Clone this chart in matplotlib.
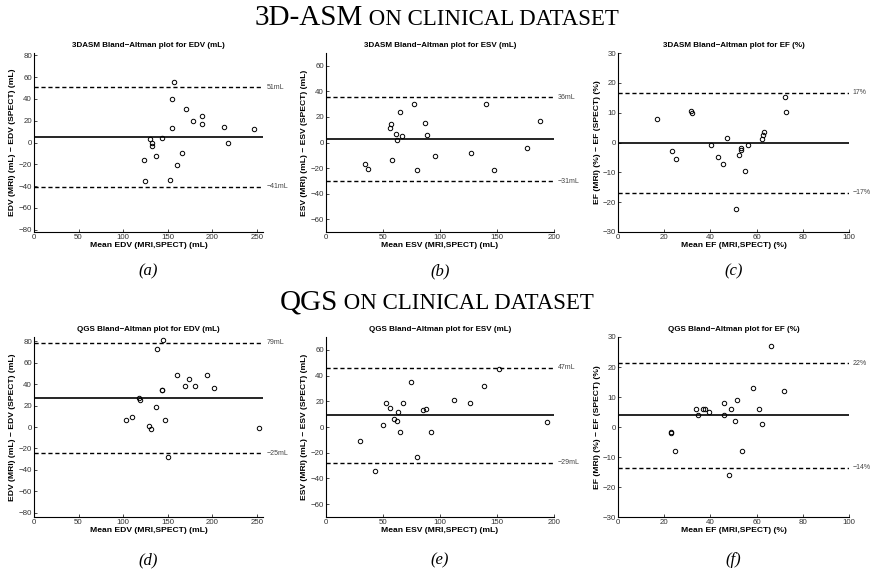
"""
Bland-Altman plots for 3D-ASM and QGS against MRI (EDV, ESV, EF).
"""
import matplotlib
matplotlib.use('Agg')
import matplotlib.pyplot as plt

# ---- data ------------------------------------------------------------------
# 3D-ASM
asm_edv_mean = [157, 155, 171, 179, 188, 189, 213, 247, 155, 218, 144, 130,
                132, 132, 137, 166, 161, 123, 125, 153]
asm_edv_diff = [55, 40, 31, 19.5, 24, 17, 14, 12.5, 13, 0, 4, 3.5,
                -0.5, -3, -12, -10, -20.5, -16, -35, -34.5]
asm_edv_lines = (5, 50.6, -40.4)
asm_edv_labels = ('51mL', '−41mL')

asm_esv_mean = [34, 36.5, 57, 56.4, 58, 61.6, 62.2, 65, 67, 77, 80, 87,
                89, 95.5, 127, 140, 147, 176, 188]
asm_esv_diff = [-17, -20.5, 14.5, 11, -13.5, 7, 2.3, 24, 4.7, 30.5, -21.5, 15.3,
                6.2, -10.8, -8.3, 30, -21.5, -4, 16.6]
asm_esv_lines = (2.5, 35.3, -30.4)
asm_esv_labels = ('36mL', '−31mL')

asm_ef_mean = [17, 23.4, 25.3, 31.6, 31.9, 40.4, 43.4, 45.6, 47, 51.2, 52.2,
               53.1, 53.2, 54.8, 56.4, 62.2, 62.6, 63.2, 72.4, 72.9]
asm_ef_diff = [8, -2.8, -5.5, 10.6, 10, -0.7, -4.8, -7.3, 1.6, -22.3, -4.2,
               -1.9, -2.5, -9.7, -0.7, 1.3, 2.4, 3.4, 15.1, 10.3]
asm_ef_lines = (-0.2, 16.6, -16.9)
asm_ef_labels = ('17%', '−17%')

# QGS
qgs_edv_mean = [144.5, 138.5, 161, 174.5, 194, 169.5, 180.5, 201.5, 143.5, 144,
                117.5, 118.5, 136.5, 103.5, 110, 147, 129.5, 131.5, 150, 253]
qgs_edv_diff = [81, 72.5, 48.5, 44.5, 48.5, 38, 38, 36.5, 35, 34.5,
                27.5, 25, 18.5, 7, 9, 7, 1, -2, -28, -1]
qgs_edv_lines = (27, 78.5, -24.5)
qgs_edv_labels = ('79mL', '−25mL')

qgs_esv_mean = [30, 43, 50.3, 52.3, 56.4, 60, 62.3, 63, 65, 67.5, 74.3, 80,
                85, 88, 92, 112.3, 126.6, 139, 151.8, 194.2]
qgs_esv_diff = [-11, -34, 1.2, 19, 15, 6, 5, 12, -4, 19, 35, -23,
                13, 14, -4, 21, 19, 32, 45, 4]
qgs_esv_lines = (9.2, 46.2, -27.7)
qgs_esv_labels = ('47mL', '−29mL')

qgs_ef_mean = [22.8, 23.1, 24.8, 33.8, 34.8, 36.7, 37.8, 39.4, 45.9, 45.9,
               47.9, 48.9, 50.8, 51.4, 53.8, 58.3, 60.9, 62.3, 66.4, 71.9]
qgs_ef_diff = [-2, -1.5, -8, 6, 4, 6, 6, 5, 8, 4,
               -16, 6, 2, 9, -8, 13, 6, 1, 27, 12]
qgs_ef_lines = (4, 21.3, -13.5)
qgs_ef_labels = ('22%', '−14%')

SANS = ['Liberation Sans', 'DejaVu Sans']
SERIF = ['Liberation Serif', 'DejaVu Serif']

W, H = 872, 575
fig = plt.figure(figsize=(W / 100, H / 100), dpi=100)

# axes boxes in pixels: (left, right) per column, (top, bottom) per row
col_x = [(34, 263), (326, 554), (618, 849)]
row_y = [(53, 232), (337, 517)]


def add_axes(col, row):
    x0, x1 = col_x[col]
    y0, y1 = row_y[row]
    return fig.add_axes([x0 / W, 1 - y1 / H, (x1 - x0) / W, (y1 - y0) / H])


panels = [
    # (col,row, x, y, lines, labels, xlim, ylim, xticks, yticks, title, xlabel, ylabel)
    (0, 0, asm_edv_mean, asm_edv_diff, asm_edv_lines, asm_edv_labels,
     (0, 257), (-82, 82), range(0, 251, 50), range(-80, 81, 20),
     '3DASM Bland−Altman plot for EDV (mL)', 'Mean EDV (MRI,SPECT) (mL)',
     'EDV (MRI) (mL) − EDV (SPECT) (mL)'),
    (1, 0, asm_esv_mean, asm_esv_diff, asm_esv_lines, asm_esv_labels,
     (0, 200), (-70, 70), range(0, 201, 50), range(-60, 61, 20),
     '3DASM Bland−Altman plot for ESV (mL)', 'Mean ESV (MRI,SPECT) (mL)',
     'ESV (MRI) (mL) − ESV (SPECT) (mL)'),
    (2, 0, asm_ef_mean, asm_ef_diff, asm_ef_lines, asm_ef_labels,
     (0, 100), (-30, 30), range(0, 101, 20), range(-30, 31, 10),
     '3DASM Bland−Altman plot for EF (%)', 'Mean EF (MRI,SPECT) (%)',
     'EF (MRI) (%) − EF (SPECT) (%)'),
    (0, 1, qgs_edv_mean, qgs_edv_diff, qgs_edv_lines, qgs_edv_labels,
     (0, 257), (-84, 84), range(0, 251, 50), range(-80, 81, 20),
     'QGS Bland−Altman plot for EDV (mL)', 'Mean EDV (MRI,SPECT) (mL)',
     'EDV (MRI) (mL) − EDV (SPECT) (mL)'),
    (1, 1, qgs_esv_mean, qgs_esv_diff, qgs_esv_lines, qgs_esv_labels,
     (0, 200), (-70, 70), range(0, 201, 50), range(-60, 61, 20),
     'QGS Bland−Altman plot for ESV (mL)', 'Mean ESV (MRI,SPECT) (mL)',
     'ESV (MRI) (mL) − ESV (SPECT) (mL)'),
    (2, 1, qgs_ef_mean, qgs_ef_diff, qgs_ef_lines, qgs_ef_labels,
     (0, 100), (-30, 30), range(0, 101, 20), range(-30, 31, 10),
     'QGS Bland−Altman plot for EF (%)', 'Mean EF (MRI,SPECT) (%)',
     'EF (MRI) (%) − EF (SPECT) (%)'),
]

sub_labels = ['(a)', '(b)', '(c)', '(d)', '(e)', '(f)']

for k, (col, row, xs, ys, lines, labels, xlim, ylim, xt, yt,
        title, xlabel, ylabel) in enumerate(panels):
    ax = add_axes(col, row)
    mean, upper, lower = lines

    ax.axhline(mean, color='black', linewidth=1.2, zorder=2)
    for v in (upper, lower):
        ax.axhline(v, color='black', linewidth=1.0, dashes=(3, 2), zorder=2)
    ax.plot(xs, ys, linestyle='none', marker='o', markersize=3.2,
            markerfacecolor='none', markeredgecolor='black',
            markeredgewidth=0.7, zorder=3)

    ax.text(1.015, upper, labels[0], transform=ax.get_yaxis_transform(),
            fontsize=5, family=SANS, color='#444444', va='center', ha='left')
    ax.text(1.015, lower, labels[1], transform=ax.get_yaxis_transform(),
            fontsize=5, family=SANS, color='#444444', va='center', ha='left')

    ax.set_xlim(*xlim)
    ax.set_ylim(*ylim)
    ax.set_xticks(list(xt))
    ax.set_yticks(list(yt))
    for s in ('top', 'right'):
        ax.spines[s].set_visible(False)
    for s in ('left', 'bottom'):
        ax.spines[s].set_linewidth(0.8)
    ax.tick_params(direction='in', length=2, width=0.5, pad=1.5,
                   labelsize=5.7, labelcolor='#333333')
    for lbl in ax.get_xticklabels() + ax.get_yticklabels():
        lbl.set_family(SANS)

    ax.set_title(title, fontsize=5.8, fontweight='bold', family=SANS, pad=4)
    ax.set_xlabel(xlabel, fontsize=6.1, fontweight='bold', family=SANS,
                  labelpad=0.5)
    ax.set_ylabel(ylabel, fontsize=6.1, fontweight='bold', family=SANS,
                  labelpad=1.5)

    # sub-figure letter under each plot
    x0, x1 = col_x[col]
    cy = 271 if row == 0 else 560
    fig.text((x0 + x1) / 2 / W, 1 - cy / H, sub_labels[k], fontsize=12,
             style='italic', family=SERIF, ha='center', va='center')

# ---- small-caps section headers -------------------------------------------
renderer = fig.canvas.get_renderer()


def small_caps_header(big, small, y_base):
    t1 = fig.text(0, 1 - y_base / H, big, fontsize=21, family=SERIF,
                  va='baseline', ha='left')
    t2 = fig.text(0, 1 - y_base / H, small, fontsize=16.5, family=SERIF,
                  va='baseline', ha='left')
    w1 = t1.get_window_extent(renderer).width
    w2 = t2.get_window_extent(renderer).width
    left = (437 - (w1 + w2) / 2)
    t1.set_x(left / W)
    t2.set_x((left + w1) / W)


small_caps_header('3D-ASM', ' ON CLINICAL DATASET', 25)
small_caps_header('QGS', ' ON CLINICAL DATASET', 309)

fig.savefig('out.png', dpi=100)
